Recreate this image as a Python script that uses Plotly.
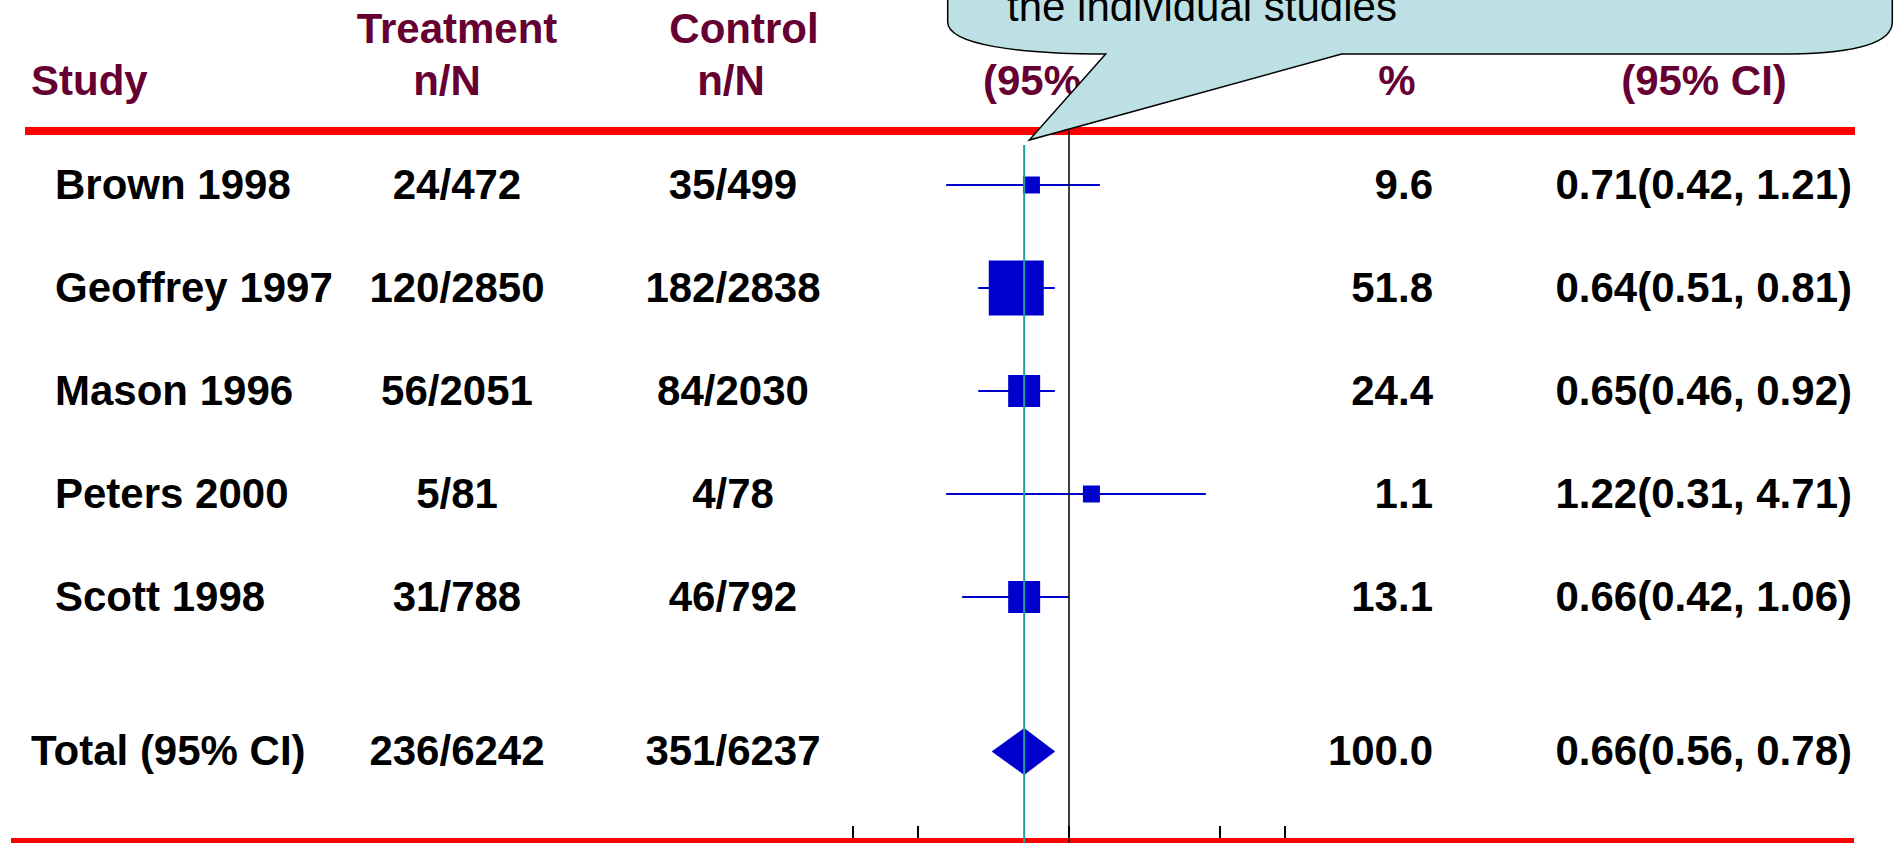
import plotly.graph_objects as go

# ---------------- data ----------------
studies = ["Brown 1998", "Geoffrey 1997", "Mason 1996", "Peters 2000", "Scott 1998"]
treat_n = [24, 120, 56, 5, 31]
treat_N = [472, 2850, 2051, 81, 788]
ctrl_n = [35, 182, 84, 4, 46]
ctrl_N = [499, 2838, 2030, 78, 792]
weights = [9.6, 51.8, 24.4, 1.1, 13.1]
or_est = [0.71, 0.64, 0.65, 1.22, 0.66]
or_lo = [0.42, 0.51, 0.46, 0.31, 0.42]
or_hi = [1.21, 0.81, 0.92, 4.71, 1.06]
total_label = "Total (95% CI)"
total_or = [0.66, 0.56, 0.78]          # estimate, lower, upper (printed)

# positions of the marks as drawn on the slide's log scale
drawn_est = [0.67, 0.57, 0.62, 1.27, 0.62]
drawn_lo = [0.27, 0.38, 0.38, 0.27, 0.32]
drawn_hi = [1.39, 0.86, 0.86, 4.30, 1.00]
drawn_total = [0.62, 0.44, 0.86]       # estimate, lower, upper (diamond)
no_effect = 1.0
scale_ticks = [0.1, 0.2, 1, 5, 10]

header_top = ["Treatment", "Control"]
header_bottom = ["Study", "n/N", "n/N", "(95% CI)", "%", "(95% CI)"]
callout_text = "the individual studies"

# ---------------- layout constants ----------------
W, H = 1894, 843
HEAD = "#660033"
BLUE = "#0000cc"
TEAL = "#1f9e9e"
RED = "#ff0000"
CALLOUT = "#bce0e3"
FONT = "Liberation Sans"
FS = 42
X1PX, PX_DEC = 1069, 216          # pixel of OR=1 and pixels per decade
Y0PX, PX_ROW = 82, 103            # pixel of row 0 and pixels per row

rows = list(range(1, len(studies) + 1))
total_row = len(studies) + 1.5
TXT_DY = 0.03                     # text baseline correction (rows)


def px(x):
    return x / W


def py(y):
    return 1 - y / H


def col(p):
    """column position given in pixels -> value on the log x axis"""
    return 10 ** ((p - X1PX) / PX_DEC)


fig = go.Figure()


def text_trace(xpix, ys, texts, pos, color="black"):
    fig.add_trace(go.Scatter(
        x=[col(xpix)] * len(ys), y=[v + TXT_DY for v in ys], text=texts, mode="text",
        textposition=pos, cliponaxis=False,
        textfont=dict(family=FONT, size=FS, color=color, weight="bold"),
        hoverinfo="skip", showlegend=False))


# headers
R1, R2 = -0.508, -0.009
text_trace(457, [R1], [header_top[0]], "middle center", HEAD)
text_trace(744, [R1], [header_top[1]], "middle center", HEAD)
text_trace(31, [R2], [header_bottom[0]], "middle right", HEAD)
text_trace(447, [R2], [header_bottom[1]], "middle center", HEAD)
text_trace(731, [R2], [header_bottom[2]], "middle center", HEAD)
text_trace(983, [R2], [header_bottom[3]], "middle right", HEAD)
text_trace(1397, [R2], [header_bottom[4]], "middle center", HEAD)
text_trace(1704, [R2], [header_bottom[5]], "middle center", HEAD)

# table body
all_rows = rows + [total_row]
treat_txt = [f"{a}/{b}" for a, b in zip(treat_n, treat_N)] + [f"{sum(treat_n)}/{sum(treat_N)}"]
ctrl_txt = [f"{a}/{b}" for a, b in zip(ctrl_n, ctrl_N)] + [f"{sum(ctrl_n)}/{sum(ctrl_N)}"]
w_txt = [f"{w:.1f}" for w in weights] + [f"{sum(weights):.1f}"]
or_txt = [f"{e:.2f}({l:.2f}, {h:.2f})" for e, l, h in zip(or_est, or_lo, or_hi)] + \
         [f"{total_or[0]:.2f}({total_or[1]:.2f}, {total_or[2]:.2f})"]

text_trace(55, rows, studies, "middle right")
text_trace(31, [total_row], [total_label], "middle right")
text_trace(457, all_rows, treat_txt, "middle center")
text_trace(733, all_rows, ctrl_txt, "middle center")
text_trace(1433, all_rows, w_txt, "middle left")
text_trace(1852, all_rows, or_txt, "middle left")

# forest marks
ci_x, ci_y = [], []
for lo, hi, r in zip(drawn_lo, drawn_hi, rows):
    ci_x += [lo, hi, None]
    ci_y += [r, r, None]
fig.add_trace(go.Scatter(x=ci_x, y=ci_y, mode="lines", line=dict(color=BLUE, width=2),
                         hoverinfo="skip", showlegend=False))
box_px = [17, 55, 32, 17, 32]
fig.add_trace(go.Scatter(x=drawn_est, y=rows, mode="markers",
                         marker=dict(symbol="square", size=box_px, color=BLUE, opacity=1,
                                     line=dict(width=0)),
                         hoverinfo="skip", showlegend=False))
dh = 0.225
e, lo, hi = drawn_total
fig.add_trace(go.Scatter(x=[lo, e, hi, e, lo],
                         y=[total_row, total_row - dh, total_row, total_row + dh, total_row],
                         mode="lines", fill="toself", fillcolor=BLUE, line=dict(color=BLUE, width=0.5),
                         hoverinfo="skip", showlegend=False))

# shapes
shapes = [
    dict(type="rect", xref="paper", yref="paper", x0=px(25), x1=px(1855), y0=py(135), y1=py(127),
         fillcolor=RED, line=dict(width=0), layer="above"),
    dict(type="rect", xref="paper", yref="paper", x0=px(11), x1=px(1854), y0=py(848), y1=py(838),
         fillcolor=RED, line=dict(width=0), layer="above"),
    dict(type="line", xref="x", yref="paper", x0=no_effect, x1=no_effect, y0=0, y1=py(131),
         line=dict(color="black", width=1.5), layer="above"),
    dict(type="line", xref="x", yref="paper", x0=drawn_total[0], x1=drawn_total[0], y0=0, y1=py(145),
         line=dict(color=TEAL, width=2), layer="above"),
]


def P(x, y):
    return f"{px(x):.5f},{py(y):.5f}"


callout_path = (
    f"M {P(947.7, -10)} L {P(947.7, 22)} "
    f"C {P(947.7, 45)} {P(1020, 54)} {P(1105.7, 54)} "
    f"L {P(1029.3, 140)} L {P(1341.7, 54)} L {P(1790, 54)} "
    f"C {P(1860, 53)} {P(1892.3, 42)} {P(1892.3, 22)} "
    f"L {P(1892.3, -10)} Z"
)
shapes.append(dict(type="path", xref="paper", yref="paper", path=callout_path,
                   fillcolor=CALLOUT, line=dict(color="black", width=1.5), layer="above"))

annotations = [dict(text=callout_text, xref="paper", yref="paper", x=px(1005), y=py(7),
                    xanchor="left", yanchor="middle", showarrow=False,
                    font=dict(family=FONT, size=FS, color="black"))]

fig.update_layout(
    width=W, height=H, margin=dict(l=0, r=0, t=0, b=0),
    paper_bgcolor="white", plot_bgcolor="white", showlegend=False,
    shapes=shapes, annotations=annotations,
    xaxis=dict(type="log", range=[-X1PX / PX_DEC, (W - X1PX) / PX_DEC], domain=[0, 1],
               tickvals=scale_ticks, ticks="inside", ticklen=17, tickwidth=2, tickcolor="black",
               showticklabels=False, showgrid=False, zeroline=False, showline=False),
    yaxis=dict(range=[(H - Y0PX) / PX_ROW, -Y0PX / PX_ROW], domain=[0, 1],
               showticklabels=False, ticks="", showgrid=False, zeroline=False, showline=False),
)

fig.write_html("out.html", config={"displayModeBar": False},
               post_script="document.body.style.margin='0';")
